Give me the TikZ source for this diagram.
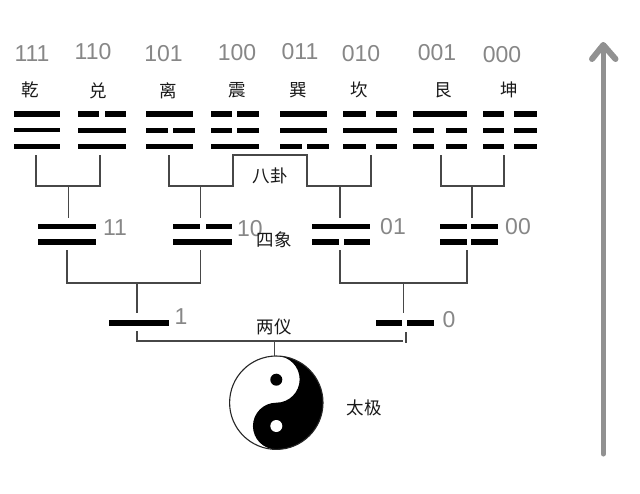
\documentclass[tikz,border=0pt]{standalone}
\usepackage{fontspec}
\setmainfont{Liberation Sans}
\newfontfamily\cjkfont{Noto Sans CJK SC}
\tikzset{
  x=1pt,y=1pt,
  solidbar/.style={line width=#1,draw=black,line cap=butt},
  solidbar/.default=5pt,
  wire/.style={draw=black!72,line width=1.3pt,line cap=butt,line join=miter},
  binlabel/.style={text=black!47,font=\fontsize{23}{23}\selectfont,inner sep=0pt},
  hanzi/.style={text=black!90,font=\cjkfont\fontsize{17.5}{18}\selectfont,inner sep=0pt},
  bigarrow/.style={draw=black!43,line width=5pt,line cap=round,line join=round}
}
\newcommand\yangbar[4][5pt]{\draw[solidbar=#1] (#2,-#4) -- (#3,-#4);}
\newcommand\yinbar[6][5pt]{\draw[solidbar=#1] (#2,-#6) -- (#3,-#6) (#4,-#6) -- (#5,-#6);}
\begin{document}
\begin{tikzpicture}
\useasboundingbox (0,0) rectangle (640,-493);
\fill[white] (0,0) rectangle (640,-493);

% binary labels of the eight trigrams
\node[binlabel] (b111) at (32,-54) {111};
\node[binlabel] (b110) at (93,-52) {110};
\node[binlabel] (b101) at (163.5,-54) {101};
\node[binlabel] (b100) at (237,-53) {100};
\node[binlabel] (b011) at (300,-52) {011};
\node[binlabel] (b010) at (361,-54) {010};
\node[binlabel] (b001) at (437,-53) {001};
\node[binlabel] (b000) at (502,-55) {000};

% trigram names
\node[hanzi] (qian) at (30,-90) {乾};
\node[hanzi] (dui) at (98,-91) {兑};
\node[hanzi] (li) at (168,-91) {离};
\node[hanzi] (zhen) at (237,-90) {震};
\node[hanzi] (xun) at (298,-90) {巽};
\node[hanzi] (kan) at (359,-90) {坎};
\node[hanzi] (gen) at (443,-90) {艮};
\node[hanzi] (kun) at (509,-90) {坤};

% trigrams
\yangbar[5.8pt]{14}{60}{114.3}\yangbar[4.8pt]{14}{60}{130}\yangbar[4.8pt]{14}{60}{146.3}
\yinbar[5.8pt]{78}{99}{105}{126}{114.3}\yangbar[5.8pt]{78}{126}{130.5}\yangbar[4.8pt]{78}{126}{146.3}
\yangbar[5.8pt]{146}{193}{114.3}\yinbar[5.8pt]{146}{168}{173}{195}{130.5}\yangbar[4.8pt]{146}{193}{146.3}
\yinbar[5.8pt]{211}{232}{237}{259}{114.3}\yinbar[5.8pt]{211}{232}{237}{259}{130.5}\yangbar[4.8pt]{211}{259}{146.3}
\yangbar[5.8pt]{280}{327}{114.3}\yangbar[5.8pt]{280}{327}{130.5}\yinbar[4.8pt]{280}{302}{307}{329}{146.3}
\yinbar[5.8pt]{343}{366}{376}{397}{114.3}\yangbar[5.8pt]{343}{397}{130.5}\yinbar[4.8pt]{343}{366}{376}{397}{146.3}
\yangbar[5.8pt]{413}{467}{114.3}\yinbar[5.8pt]{413}{434}{446}{467}{130.5}\yinbar[4.8pt]{413}{434}{446}{467}{146.3}
\yinbar[5.8pt]{483}{504}{514}{537}{114.3}\yinbar[5.8pt]{483}{504}{514}{537}{130.5}\yinbar[4.8pt]{483}{504}{514}{537}{146.3}

% four images
\yangbar[4.8pt]{38}{96}{226.3}\yangbar[5.8pt]{38}{96}{242.3}
\yinbar[4.8pt]{173}{199.5}{206}{232}{226.3}\yangbar[5.8pt]{173}{232}{242.3}
\yangbar[4.8pt]{312}{370}{226.3}\yinbar[5.8pt]{312}{339}{344}{370}{242.3}
\yinbar[4.8pt]{440}{467}{471}{498}{226.3}\yinbar[5.8pt]{440}{467}{471}{498}{242.3}

% two modes
\yangbar[6pt]{109}{169}{322.7}
\yinbar[6pt]{376}{402}{407}{434}{322.7}

% anchor points of the connectors
\coordinate (t1) at (36,-155);
\coordinate (t2) at (100,-155);
\coordinate (t3) at (169,-155);
\coordinate (t4) at (233,-155);
\coordinate (t5) at (307,-155);
\coordinate (t6) at (371,-155);
\coordinate (t7) at (441,-155);
\coordinate (t8) at (504,-155);
\coordinate (t4low) at (233,-186);
\coordinate (t5low) at (307,-186);
\coordinate (j1) at (68.5,-186);
\coordinate (j2) at (200.5,-186);
\coordinate (j3) at (340,-186);
\coordinate (j4) at (472,-186);
\coordinate (s1) at (68.5,-218);
\coordinate (s2) at (200.5,-218);
\coordinate (s3) at (340,-218);
\coordinate (s4) at (472,-218);
\coordinate (u1) at (67,-250);
\coordinate (u2) at (200.5,-250);
\coordinate (u3) at (340,-250);
\coordinate (u4) at (467,-250);
\coordinate (k1) at (137,-283);
\coordinate (k2) at (403.5,-283);
\coordinate (m1) at (137,-313);
\coordinate (m2) at (403.5,-313);
\coordinate (n1) at (137,-331);
\coordinate (n2) at (402.7,-341);
\coordinate (n3) at (406,-332);
\coordinate (n4) at (406,-343);
\coordinate (r) at (274.3,-341);
\coordinate (taiji) at (274.3,-356.5);

% connectors
\draw[wire] (t1) |- (j1) -| (t2);
\draw[wire] (j1) -- (s1);
\draw[wire] (t3) |- (t4low) -- (t4) -- (t5) -- (t5low) -| (t6);
\draw[wire] (j2) -- (s2);
\draw[wire] (j3) -- (s3);
\draw[wire] (t7) |- (j4) -| (t8);
\draw[wire] (j4) -- (s4);
\draw[wire] (u1) |- (k1) -| (u2);
\draw[wire] (k1) -- (m1);
\draw[wire] (u3) |- (k2) -| (u4);
\draw[wire] (k2) -- (m2);
\draw[wire] (n1) |- (n2);
\draw[wire] (n3) -- (n4);
\draw[wire] (r) -- (taiji);

% level names and remaining numbers
\node[hanzi] (bagua) at (270,-175.7) {八卦};
\node[binlabel] (b11) at (115,-228) {11};
\node[binlabel] (b10) at (250,-229) {10};
\node[hanzi] (sixiang) at (274,-240) {四象};
\node[binlabel] (b01) at (393,-227) {01};
\node[binlabel] (b00) at (518,-227) {00};
\node[binlabel] (b1) at (181,-317) {1};
\node[binlabel] (b0) at (449,-320) {0};
\node[hanzi] (liangyi) at (274,-326.7) {两仪};
\node[hanzi] (taijilabel) at (364,-407.7) {太极};

% taiji symbol
\fill[white] (276.3,-402.7) circle[radius=46.7];
\fill[black] (276.3,-356) arc[start angle=90,end angle=-90,radius=46.7]
  arc[start angle=-90,end angle=-270,radius=23.35]
  arc[start angle=-90,end angle=90,radius=23.35] -- cycle;
\draw[black!85,line width=1.1pt] (276.3,-402.7) circle[radius=46.7];
\fill[black] (276.3,-379.7) circle[radius=6];
\fill[white] (276.3,-426) circle[radius=6];

% growth arrow
\coordinate (arrowfoot) at (603.3,-454);
\coordinate (arrowtip) at (603.3,-45);
\coordinate (armleft) at (592,-59);
\coordinate (armright) at (615.5,-59);
\draw[bigarrow] (arrowfoot) -- (arrowtip);
\draw[bigarrow,line width=6pt] (armleft) -- (arrowtip) -- (armright);
\end{tikzpicture}
\end{document}
